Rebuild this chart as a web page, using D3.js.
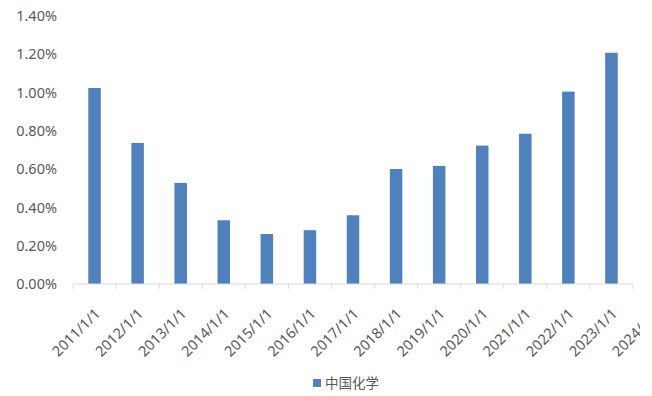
<!DOCTYPE html>
<html><head><meta charset="utf-8">
<script src="https://cdn.jsdelivr.net/npm/d3@7"></script>
<style>body{margin:0;background:#fff;}svg{display:block;}</style>
</head><body>
<svg id="c" width="652" height="396"></svg>
<script>
const categories = ["2011/1/1","2012/1/1","2013/1/1","2014/1/1","2015/1/1","2016/1/1","2017/1/1","2018/1/1","2019/1/1","2020/1/1","2021/1/1","2022/1/1","2023/1/1"];
const values = [1.024,0.737,0.528,0.333,0.261,0.281,0.359,0.601,0.617,0.723,0.785,1.005,1.208];
const tickLabels = ["2011/1/1","2012/1/1","2013/1/1","2014/1/1","2015/1/1","2016/1/1","2017/1/1","2018/1/1","2019/1/1","2020/1/1","2021/1/1","2022/1/1","2023/1/1","2024/1/1"];
const yTicks = [0,0.2,0.4,0.6,0.8,1.0,1.2,1.4];
const seriesName = "中国化学";

const svg = d3.select("#c");
const font = "'Noto Sans', 'Open Sans', sans-serif";
const x = d3.scaleBand().domain(categories).range([73,633]).paddingInner(0.71).paddingOuter(0.355);
const y = d3.scaleLinear().domain([0,1.4]).range([284,16]);

// y labels
svg.append("g").selectAll("text").data(yTicks).join("text")
  .attr("x",57).attr("y",d=>y(d)).attr("dy","0.35em")
  .attr("text-anchor","end").attr("font-family",font).attr("font-size",14.5)
  .attr("fill","#595959").text(d=>d.toFixed(2)+"%");

// bars
svg.append("g").selectAll("rect").data(values).join("rect")
  .attr("x",(d,i)=>x(categories[i])).attr("width",x.bandwidth())
  .attr("y",d=>y(d)).attr("height",d=>y(0)-y(d)).attr("fill","#4f81bd");

// axis line + ticks
const bounds = d3.range(categories.length+1).map(i=>73+i*(560/categories.length));
svg.append("line").attr("x1",73).attr("x2",633).attr("y1",284).attr("y2",284).attr("stroke","#d9d9d9").attr("stroke-width",1);
svg.append("g").selectAll("line").data(bounds).join("line")
  .attr("x1",d=>d).attr("x2",d=>d).attr("y1",284).attr("y2",289).attr("stroke","#d9d9d9");

// x labels
const labelX = i => 73 + (i+0.5)*(560/categories.length) + 3;
svg.append("defs").append("clipPath").attr("id","clp").append("rect").attr("x",0).attr("y",0).attr("width",640).attr("height",396);
svg.append("g").attr("clip-path","url(#clp)").selectAll("text").data(tickLabels).join("text")
  .attr("transform",(d,i)=>`translate(${labelX(i)},311) rotate(-45)`)
  .attr("text-anchor","end").attr("dy","0.35em")
  .attr("font-family",font).attr("font-size",14.5).attr("fill","#595959").text(d=>d);

// legend
svg.append("rect").attr("x",313).attr("y",379).attr("width",8).attr("height",8).attr("fill","#4f81bd");
svg.append("text").attr("x",325).attr("y",383).attr("dy","0.35em")
  .attr("font-family","'Noto Sans CJK SC', sans-serif").attr("font-size",13.5).attr("fill","#595959").text(seriesName);
</script>
</body></html>
